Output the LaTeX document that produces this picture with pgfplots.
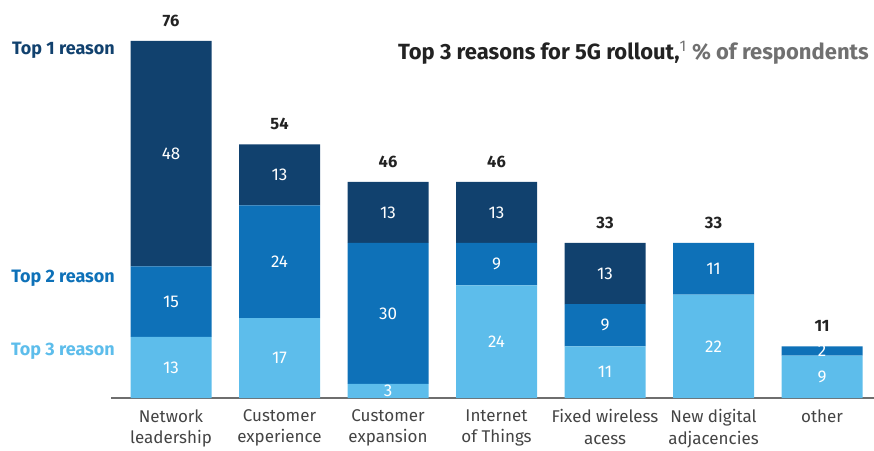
\documentclass[border=0pt]{standalone}
\usepackage{pgfplots}
\pgfplotsset{compat=1.18}
\usepackage{fontspec}
\setmainfont{Fira Sans}
\definecolor{topone}{HTML}{11416E}
\definecolor{toptwo}{HTML}{0E71B8}
\definecolor{topthree}{HTML}{5DBDEB}
\definecolor{axisgray}{HTML}{6E6E6E}
\definecolor{labelgray}{HTML}{444444}
\definecolor{titledark}{HTML}{222222}
\definecolor{titlegray}{HTML}{707070}
\begin{document}
\begin{tikzpicture}
\useasboundingbox (0,0) rectangle (874pt,450pt);
\pgfplotsset{common/.style={at={(111pt,52pt)}, anchor=south west, scale only axis,
  width=763pt, height=375.8pt, xmin=-0.553, xmax=6.479, ymin=0, ymax=80}}
\begin{axis}[common, ybar stacked, bar width=81pt,
  axis x line*=bottom, axis y line=none,
  x axis line style={draw=axisgray, line width=2pt, -},
  xtick={0,...,6},
  xticklabels={{Network\\leadership},{Customer\\experience},{Customer\\expansion},{Internet\\of Things},{Fixed wireless\\acess},{New digital\\adjacencies},{other}},
  major tick length=0pt,
  xticklabel style={align=center, font=\fontsize{17}{21.5}\selectfont, text=labelgray, yshift=-8pt}]
\addplot[fill=topthree, draw=none] coordinates {(0,13) (1,17) (2,3) (3,24) (4,11) (5,22) (6,9)};
\addplot[fill=toptwo, draw=none] coordinates {(0,15) (1,24) (2,30) (3,9) (4,9) (5,11) (6,2)};
\addplot[fill=topone, draw=none] coordinates {(0,48) (1,13) (2,13) (3,13) (4,13) (5,0) (6,0)};
\end{axis}
\begin{axis}[common, hide axis, clip=false]
\addplot[draw=none, nodes near coords, point meta=explicit symbolic,
  every node near coord/.append style={anchor=center, font=\fontsize{17}{18}\selectfont, text=white}]
  table[meta=l] {
x y l
0 6.5 13
0 20.5 15
0 52 48
1 8.5 17
1 29 24
1 47.5 13
2 1.5 3
2 18 30
2 39.5 13
3 12 24
3 28.5 9
3 39.5 13
4 5.5 11
4 15.5 9
4 26.5 13
5 11 22
5 27.5 11
6 4.5 9
6 10 2
};
\addplot[draw=none, nodes near coords, point meta=explicit symbolic,
  every node near coord/.append style={anchor=center, yshift=20pt, font=\bfseries\fontsize{16.5}{18}\selectfont, text=titledark}]
  table[meta=l] {
x y l
0 76 76
1 54 54
2 46 46
3 46 46
4 33 33
5 33 33
6 11 11
};
\end{axis}
\node[anchor=east, inner sep=0pt, text=topone, font=\bfseries\fontsize{18}{18}\selectfont] at (115pt,400pt) {Top 1 reason};
\node[anchor=east, inner sep=0pt, text=toptwo, font=\bfseries\fontsize{18}{18}\selectfont] at (115pt,172pt) {Top 2 reason};
\node[anchor=east, inner sep=0pt, text=topthree, font=\bfseries\fontsize{18}{18}\selectfont] at (115pt,99pt) {Top 3 reason};
\node[anchor=east, inner sep=0pt, font=\bfseries\fontsize{22}{24}\selectfont] at (869pt,397pt)
  {\textcolor{titledark}{Top 3 reasons for 5G rollout,}\textcolor{titlegray}{\textsuperscript{\mdseries 1} \% of respondents}};
\end{tikzpicture}
\end{document}
